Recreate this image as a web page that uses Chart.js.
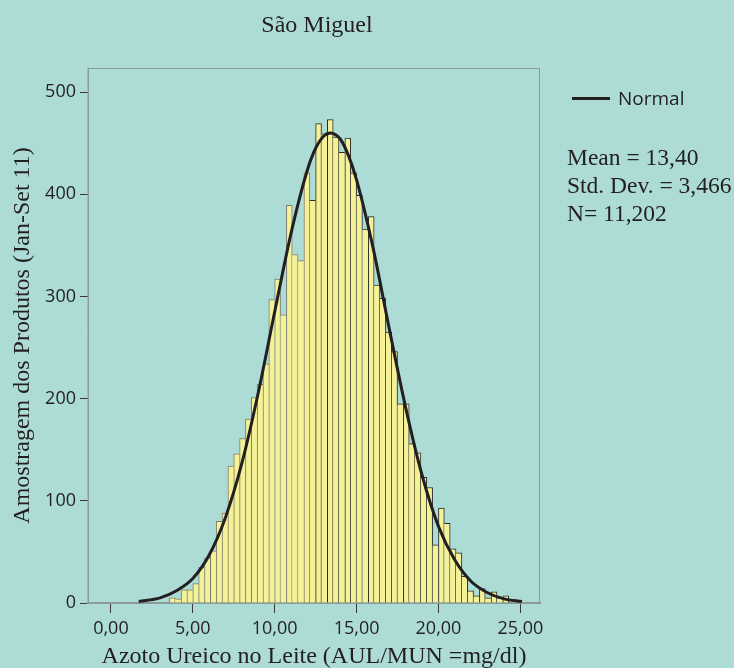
<!DOCTYPE html>
<html>
<head>
<meta charset="utf-8">
<script src="https://cdn.jsdelivr.net/npm/chart.js@4.4.1/dist/chart.umd.min.js"></script>
<style>
  html, body { margin: 0; padding: 0; background: #acdcd5; }
  #wrap { position: relative; width: 734px; height: 668px; }
  #title { position: absolute; left: 217px; width: 200px; top: 11px; text-align: center;
           font: 24px "Liberation Serif", serif; color: #231f20; }
  #legLine { position: absolute; left: 572px; top: 97px; width: 38px; height: 0; border-top: 3px solid #231f20; }
  #legText { position: absolute; left: 618px; top: 85px; font: 19px "Open Sans", sans-serif; color: #231f20; }
  #stats { position: absolute; left: 567px; top: 143px; font: 23.5px "Liberation Serif", serif;
           line-height: 28px; color: #231f20; white-space: nowrap; }
</style>
</head>
<body>
<div id="wrap">
  <canvas id="histChart" width="734" height="668"></canvas>
  <div id="title">São Miguel</div>
  <div id="legLine"></div>
  <div id="legText">Normal</div>
  <div id="stats"></div>
</div>
<script>
// histogram: bins of 5/14 mg/dl, first drawn bin is bin 10
const binWidth = 5 / 14;
const firstBin = 10;
const counts = [
  5, 4, 13, 13, 19, 35, 44, 51, 80, 88,
  134, 146, 161, 180, 201, 214, 234, 297, 317, 282,
  389, 341, 335, 421, 394, 469, 459, 473, 456, 441,
  455, 421, 399, 366, 378, 311, 298, 265, 246, 195,
  195, 156, 147, 123, 113, 57, 93, 78, 53, 49,
  26, 12, 7, 14, 5, 11, 5, 7
];

// normal curve
const curveX = [1.7, 3, 4, 5, 6, 7, 8, 9, 10, 11, 12, 12.5, 13, 13.4, 14, 14.5, 15, 16, 17, 18, 19, 20, 21, 22, 23, 24, 25.1];
const curveY = [1.5, 5, 12, 24, 47, 84, 137, 206, 285, 362, 424, 445, 457, 460, 454, 438, 414, 348, 268, 191, 125, 75, 42, 21, 10, 4, 1.5];

const xTicks = [0, 5, 10, 15, 20, 25];
const yTicks = [0, 100, 200, 300, 400, 500];
const statLines = ["Mean = 13,40", "Std. Dev. = 3,466", "N= 11,202"];

document.getElementById("stats").innerHTML = statLines.join("<br>");

Chart.defaults.font.family = "'Open Sans', sans-serif";
Chart.defaults.color = "#231f20";

const barPoints = counts.map((c, i) => ({ x: (firstBin + i + 0.5) * binWidth, y: c }));
const curvePoints = curveX.map((x, i) => ({ x: x, y: curveY[i] }));

// each shared edge drawn once, by the taller of the two bars
function barBorder(ctx) {
    const i = ctx.dataIndex;
    const h = counts[i];
    const prev = i > 0 ? counts[i - 1] : 0;
    const next = i < counts.length - 1 ? counts[i + 1] : 0;
    return { top: 1, bottom: 0, left: h >= prev ? 1 : 0, right: h > next ? 1 : 0 };
}

const frame = {
    id: "frame",
    afterDraw(chart) {
        const { ctx, chartArea: a } = chart;
        ctx.save();
        ctx.strokeStyle = "#8a9a97";
        ctx.lineWidth = 1;
        ctx.beginPath();
        ctx.moveTo(a.left, a.bottom);
        ctx.lineTo(a.left, a.top + 0.5);
        ctx.lineTo(a.right - 0.5, a.top + 0.5);
        ctx.lineTo(a.right - 0.5, a.bottom);
        ctx.stroke();
        ctx.restore();
    }
};

new Chart(document.getElementById("histChart").getContext("2d"), {
    type: "bar",
    data: {
        datasets: [{
            type: "line",
            label: "Normal",
            data: curvePoints,
            borderColor: "#231f20",
            borderWidth: 3,
            pointRadius: 0,
            fill: false,
            cubicInterpolationMode: "monotone",
            order: 0
        }, {
            label: "Counts",
            data: barPoints,
            backgroundColor: "#f5f196",
            borderColor: ctx => (firstBin + ctx.dataIndex >= 34 ? "#2b2b2b" : "#7c7c6a"),
            borderWidth: barBorder,
            borderSkipped: false,
            barPercentage: 1,
            categoryPercentage: 1,
            order: 1
        }]
    },
    options: {
        responsive: false,
        animation: false,
        layout: { padding: { left: 0, top: 68, right: 194, bottom: 0 } },
        plugins: {
            legend: { display: false },
            tooltip: { enabled: false }
        },
        scales: {
            x: {
                type: "linear",
                offset: false,
                min: -1.4,
                max: 26.2,
                afterBuildTicks: s => { s.ticks = xTicks.map(v => ({ value: v })); },
                afterFit: s => { s.height = 65; },
                ticks: {
                    font: { size: 18 },
                    padding: 5,
                    callback: v => v.toFixed(2).replace(".", ",")
                },
                grid: { offset: false, drawOnChartArea: false, drawTicks: true, tickLength: 10, tickColor: "#3a3a3a" },
                border: { display: true, color: "#8a9a97", width: 2 },
                title: {
                    display: true,
                    text: "Azoto Ureico no Leite (AUL/MUN =mg/dl)",
                    font: { family: "'Liberation Serif', serif", size: 24, lineHeight: 1 },
                    padding: { top: 2, bottom: -1 }
                }
            },
            y: {
                min: 0,
                max: 523.5,
                afterBuildTicks: s => { s.ticks = yTicks.map(v => ({ value: v })); },
                afterFit: s => { s.width = 88; },
                ticks: { font: { size: 18 }, padding: 4 },
                grid: { drawOnChartArea: false, drawTicks: true, tickLength: 8, tickColor: "#3a3a3a" },
                border: { display: true, color: "#8a9a97", width: 1 },
                title: {
                    display: true,
                    text: "Amostragem dos Produtos (Jan-Set 11)",
                    font: { family: "'Liberation Serif', serif", size: 24 },
                    padding: { top: 8, bottom: 0 }
                }
            }
        }
    },
    plugins: [frame]
});
</script>
</body>
</html>
